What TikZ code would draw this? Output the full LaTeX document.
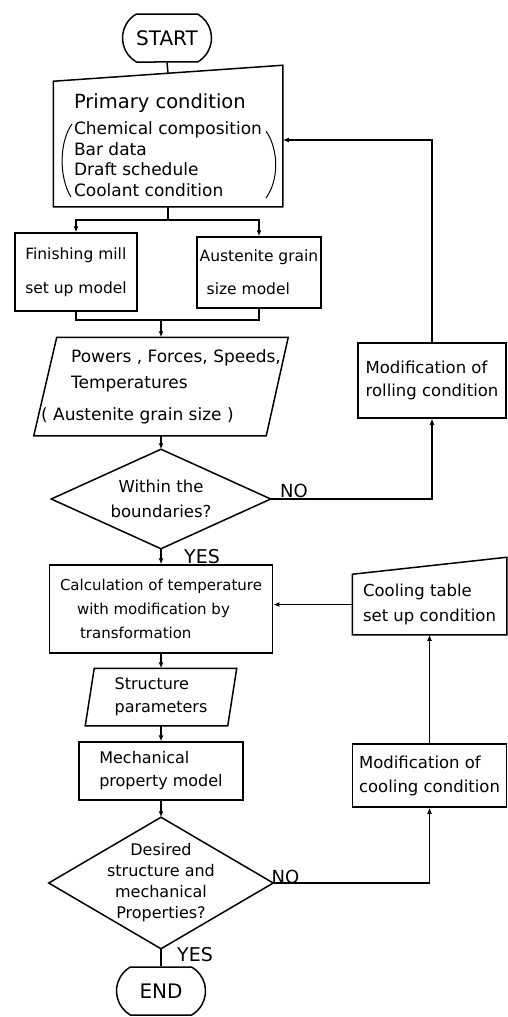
\documentclass[tikz,border=0pt]{standalone}
\usepackage{fontspec}
\setmainfont{DejaVu Sans}
\usetikzlibrary{shapes.misc,arrows.meta}

\begin{document}
\begin{tikzpicture}[x=1pt,y=-1pt,line width=1.5pt,
  box/.style={draw,rectangle,inner sep=0pt,align=left},
  blank/.style={rectangle,inner sep=0pt},
  term/.style={draw,rounded rectangle,rounded rectangle arc length=120,minimum width=89pt,minimum height=48pt,inner sep=0pt,font=\fontsize{20}{24}\selectfont},
  arr/.style={-{Latex[length=6pt,width=5pt]}},
  lbl/.style={inner sep=0pt,font=\fontsize{18}{20}\selectfont}]

\useasboundingbox (0,0) rectangle (508,1017);

% main column
\node[term] (start) at (167,38) {START};

\node[blank,minimum width=228pt,minimum height=132pt,align=left,font=\fontsize{17}{20.5}\selectfont] (prim) at (168,140) {\rule{0pt}{25pt}{\fontsize{19.5}{22}\selectfont Primary condition}\\[6pt]Chemical composition\\Bar data\\Draft schedule\\Coolant condition};
\draw ([yshift=-8pt]prim.north west) -- ([yshift=8pt]prim.north east) -- (prim.south east) -- (prim.south west) -- cycle;
\draw[line width=1pt] (72,124) .. controls (59,142) and (59,178) .. (71,197);
\draw[line width=1pt] (266,131) .. controls (279,150) and (279,180) .. (266,198);

\node[box,minimum width=122pt,minimum height=78pt,font=\fontsize{15.5}{19}\selectfont] (finish) at (76,272) {Finishing mill\\[15pt]set up model};
\node[box,minimum width=124pt,minimum height=71pt,font=\fontsize{15.5}{19}\selectfont] (aust) at (259,272.5) {Austenite grain\\[14pt]\hspace*{7pt}size model};

\node[blank,minimum width=253pt,minimum height=97pt,align=left,font=\fontsize{17}{20}\selectfont] (powers) at (161,386.5) {\hspace*{30pt}Powers , Forces, Speeds,\\[6pt]\hspace*{30pt}Temperatures\\[12pt]( Austenite grain size )};
\draw (powers.south west) -- ([xshift=-22pt]powers.south east) -- (powers.north east) -- ([xshift=23pt]powers.north west) -- cycle;

\node[blank,minimum width=218pt,minimum height=98pt,align=center,font=\fontsize{16.5}{20}\selectfont] (d1) at (161,499) {Within the\\[5pt]boundaries?};
\draw (d1.north) -- (d1.east) -- (d1.south) -- (d1.west) -- cycle;

\node[box,minimum width=223pt,minimum height=88pt,font=\fontsize{15}{24}\selectfont] (calc) at (161,609) {Calculation of temperature\\\hspace*{17pt}with modification by\\\hspace*{20pt}transformation};

\node[blank,minimum width=150pt,minimum height=56pt,align=left,font=\fontsize{16}{23}\selectfont] (struct) at (161,697) {Structure\\parameters};
\draw ([xshift=9pt]struct.north west) -- (struct.north east) -- ([xshift=-9pt]struct.south east) -- (struct.south west) -- cycle;

\node[box,minimum width=164pt,minimum height=58pt,font=\fontsize{16}{23}\selectfont] (mech) at (161,771) {Mechanical\\property model};

\node[blank,minimum width=223pt,minimum height=130pt,align=center,font=\fontsize{16}{21}\selectfont] (d2) at (161,883) {Desired\\structure and\\mechanical\\Properties?};
\draw (d2.north) -- (d2.east) -- (d2.south) -- (d2.west) -- cycle;

\node[term] (stop) at (161,991) {END};

% right column
\node[box,minimum width=148pt,minimum height=75pt,font=\fontsize{16.5}{23}\selectfont] (rolmod) at (432,380.5) {Modification of\\rolling condition};
\node[blank,minimum width=153pt,minimum height=59pt,align=left,font=\fontsize{16.5}{25}\selectfont] (cooltab) at (429.5,604.5) {Cooling table\\set up condition};
\draw (cooltab.north west) -- ([yshift=17pt]cooltab.north east) -- (cooltab.south east) -- (cooltab.south west) -- cycle;
\node[box,minimum width=154pt,minimum height=63pt,font=\fontsize{16.5}{24}\selectfont] (coolmod) at (429.5,775.5) {Modification of\\cooling condition};

% connectors
\coordinate (split) at (168,220);
\coordinate (join) at (161,320);
\draw (start.south) -- (prim.north);
\draw (prim.south) -- (split);
\draw[arr] (split) -| (finish.north);
\draw[arr] (split) -| (aust.north);
\draw (finish.south) |- (join) -| (aust.south);
\draw[arr] (join) -- (powers.north);
\draw[arr] (powers.south) -- (d1.north);
\draw[arr] (d1.south) -- (calc.north);
\draw[arr] (calc.south) -- (struct.north);
\draw[arr] (struct.south) -- (mech.north);
\draw[arr] (mech.south) -- (d2.north);
\draw (d2.south) -- (stop.north);
\draw[arr] (d1.east) -| (rolmod.south);
\draw[arr] (rolmod.north) |- (prim.east);
\draw[arr] (d2.east) -| (coolmod.south);
\draw[arr] (coolmod.north) -- (cooltab.south);
\draw[arr] (cooltab.west) -- (cooltab.west -| calc.east);

\node[lbl] (no1) at (294,491) {NO};
\node[lbl,font=\fontsize{19}{20}\selectfont] (yes1) at (202,557) {YES};
\node[lbl] (no2) at (285.5,877) {NO};
\node[lbl,font=\fontsize{19}{20}\selectfont] (yes2) at (195,955) {YES};
\end{tikzpicture}
\end{document}
